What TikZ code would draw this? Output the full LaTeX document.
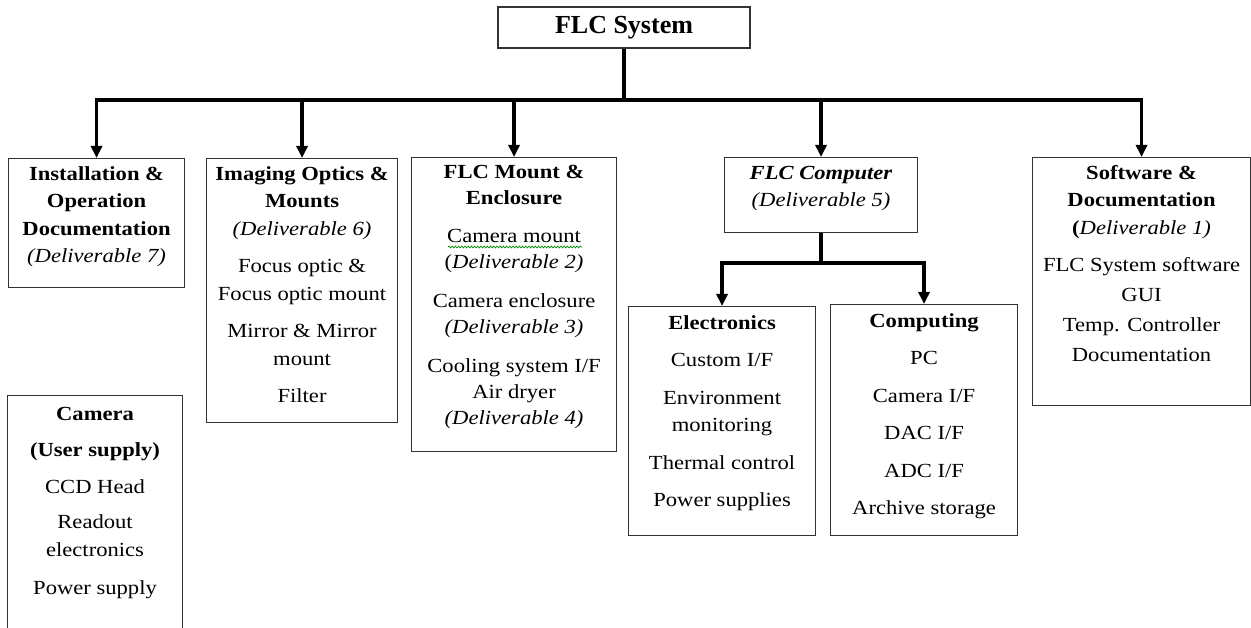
\documentclass[tikz,border=0pt]{standalone}
\usepackage{fontspec}
\setmainfont{Liberation Serif}[FakeStretch=1.13]
\newfontfamily\titlefont{Liberation Serif}
\usetikzlibrary{arrows.meta,decorations.pathmorphing}

\tikzset{
  box/.style={draw=black!80, line width=1.1pt, inner sep=0pt, anchor=north west},
  txt/.style={align=center, inner sep=0pt, anchor=north,
              font=\fontsize{20}{27.5}\selectfont},
  conn/.style={line width=3.2pt, black, line join=miter},
  arr/.style={-{Triangle[length=12pt,width=11pt]}},
  squig/.style={draw=green!55!black, line width=0.7pt,
                decorate, decoration={snake, amplitude=0.9pt, segment length=3.2pt}}
}

\begin{document}
\begin{tikzpicture}[x=1pt,y=-1pt]
\clip (0,0) rectangle (1251,628);
\fill[white] (0,0) rectangle (1251,628);

% top of the breakdown
\node[box, anchor=center, minimum width=252pt, minimum height=41pt,
      font=\titlefont\bfseries\fontsize{26}{30}\selectfont] (sys) at (624,27.5) {FLC System};
\coordinate (bus) at (0,100);

% first level boxes
\node[box, minimum width=176pt, minimum height=129pt] (inst) at (8,158) {};
\node[box, minimum width=191pt, minimum height=264pt] (img)  at (206,158) {};
\node[box, minimum width=205pt, minimum height=294pt] (mnt)  at (411,157) {};
\node[box, minimum width=193pt, minimum height=75pt]  (comp) at (724,157) {};
\node[box, minimum width=218pt, minimum height=248pt] (soft) at (1032,157) {};
\node[box, minimum width=175pt, minimum height=250pt] (cam)  at (7,395) {};

% computer sub-boxes
\coordinate (sub) at (0,263);
\node[box, minimum width=187pt, minimum height=229pt] (elec) at (628,306) {};
\node[box, minimum width=187pt, minimum height=231pt] (cmpt) at (830,304) {};

% box texts
\node[txt] (instT) at ([yshift=-2.7pt]inst.north) {\strut\textbf{Installation \&}\\
  \textbf{Operation}\\ \textbf{Documentation}\\ \textit{(Deliverable 7)}};

\node[txt] (imgT) at ([yshift=-2.7pt]img.north) {\strut\textbf{Imaging Optics \&}\\
  \textbf{Mounts}\\ \textit{(Deliverable 6)}\\[10pt]
  Focus optic \&\\ Focus optic mount\\[10pt]
  Mirror \& Mirror\\ mount\\[10pt] Filter};

\node[txt, font=\fontsize{20}{26}\selectfont] (mntT) at ([yshift=-2.7pt]mnt.north)
  {\strut\textbf{FLC Mount \&}\\ \textbf{Enclosure}\\[12pt]
  Camera mount\\ (\textit{Deliverable 2)}\\[13pt]
  Camera enclosure\\ \textit{(Deliverable 3)}\\[13pt]
  Cooling system I/F\\ Air dryer\\ \textit{(Deliverable 4)}};
\draw[squig] (448,247) -- (582,247);

\node[txt] (compT) at ([yshift=-2.7pt]comp.north) {\strut\textbf{\textit{FLC Computer}}\\
  \textit{(Deliverable 5)}};

\node[txt] (softT) at ([yshift=-2.7pt]soft.north) {\strut\textbf{Software \&}\\
  \textbf{Documentation}\\ {\bfseries(}\textit{Deliverable 1)}\\[10pt]
  FLC System software\\[2.5pt] GUI\\[2.5pt] Temp. Controller\\[2.5pt] Documentation};

\node[txt] (camT) at ([yshift=-5.7pt]cam.north) {\strut\textbf{Camera}\\[9pt]
  \textbf{(User supply)}\\[9pt] CCD Head\\[8pt] Readout\\ electronics\\[11pt] Power supply};

\node[txt] (elecT) at ([yshift=-3.7pt]elec.north) {\strut\textbf{Electronics}\\[10pt]
  Custom I/F\\[10pt] Environment\\ monitoring\\[10pt] Thermal control\\[10pt] Power supplies};

\node[txt] (cmptT) at ([yshift=-3.7pt]cmpt.north) {\strut\textbf{Computing}\\[10pt]
  PC\\[10pt] Camera I/F\\[10pt] DAC I/F\\[10pt] ADC I/F\\[10pt] Archive storage};

% connectors
\draw[conn] (sys.south) -- (sys.south |- bus);
\draw[conn, arr] (sys.south |- bus) -| (inst.north);
\draw[conn, arr] (sys.south |- bus) -| (soft.north);
\draw[conn, arr] (img.north |- bus) -- (img.north);
\draw[conn, arr] (mnt.north |- bus) -- (mnt.north);
\draw[conn, arr] (comp.north |- bus) -- (comp.north);

\draw[conn] (comp.south) -- (comp.south |- sub);
\draw[conn, arr] (comp.south |- sub) -| (elec.north);
\draw[conn, arr] (comp.south |- sub) -| (cmpt.north);
\end{tikzpicture}
\end{document}
